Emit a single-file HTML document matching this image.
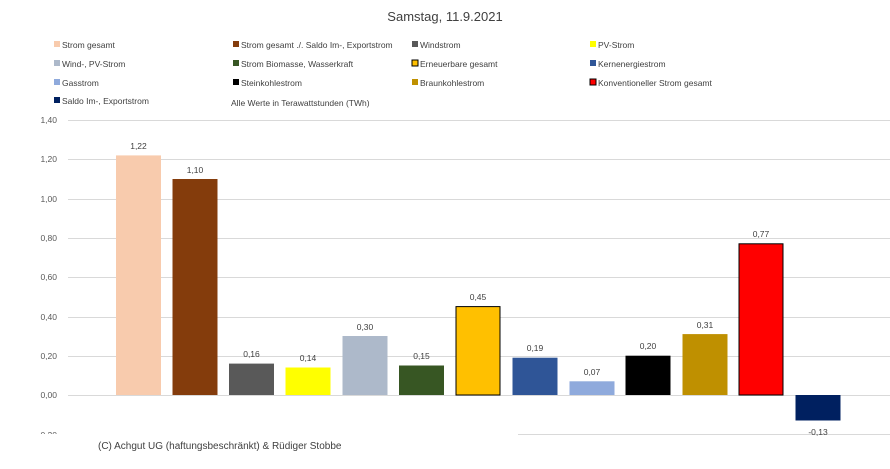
<!DOCTYPE html>
<html><head><meta charset="utf-8"><style>
body{margin:0;background:#fff}
text{font-family:"Liberation Sans",sans-serif}
</style></head><body>
<svg width="890" height="464" xmlns="http://www.w3.org/2000/svg">
<rect width="890" height="464" fill="#fff"/>
<text x="445" y="21" font-size="13" text-anchor="middle" fill="#404040">Samstag, 11.9.2021</text>
<g font-size="8.5" fill="#404040">
<rect x="54" y="41" width="6" height="6" fill="#f8cbad"/><text x="62" y="48">Strom gesamt</text>
<rect x="233" y="41" width="6" height="6" fill="#843c0c"/><text x="241" y="48">Strom gesamt ./. Saldo Im-, Exportstrom</text>
<rect x="412" y="41" width="6" height="6" fill="#595959"/><text x="420" y="48">Windstrom</text>
<rect x="590" y="41" width="6" height="6" fill="#ffff00"/><text x="598" y="48">PV-Strom</text>
<rect x="54" y="60" width="6" height="6" fill="#adb9ca"/><text x="62" y="67">Wind-, PV-Strom</text>
<rect x="233" y="60" width="6" height="6" fill="#375623"/><text x="241" y="67">Strom Biomasse, Wasserkraft</text>
<rect x="412" y="60" width="6" height="6" fill="#ffc000" stroke="#000" stroke-width="1"/><text x="420" y="67">Erneuerbare gesamt</text>
<rect x="590" y="60" width="6" height="6" fill="#2f5597"/><text x="598" y="67">Kernenergiestrom</text>
<rect x="54" y="79" width="6" height="6" fill="#8faadc"/><text x="62" y="86">Gasstrom</text>
<rect x="233" y="79" width="6" height="6" fill="#000"/><text x="241" y="86">Steinkohlestrom</text>
<rect x="412" y="79" width="6" height="6" fill="#bf9000"/><text x="420" y="86">Braunkohlestrom</text>
<rect x="590" y="79" width="6" height="6" fill="#ff0000" stroke="#000" stroke-width="1"/><text x="598" y="86">Konventioneller Strom gesamt</text>
<rect x="54" y="97" width="6" height="6" fill="#002060"/><text x="62" y="104">Saldo Im-, Exportstrom</text>
<text x="231" y="106">Alle Werte in Terawattstunden (TWh)</text>
</g>
<g stroke="#d9d9d9" stroke-width="1">
<line x1="68" x2="890" y1="120.5" y2="120.5"/><line x1="68" x2="890" y1="159.5" y2="159.5"/>
<line x1="68" x2="890" y1="199.5" y2="199.5"/><line x1="68" x2="890" y1="238.5" y2="238.5"/>
<line x1="68" x2="890" y1="277.5" y2="277.5"/><line x1="68" x2="890" y1="317.5" y2="317.5"/>
<line x1="68" x2="890" y1="356.5" y2="356.5"/><line x1="68" x2="890" y1="395.5" y2="395.5"/>
<line x1="68" x2="890" y1="434.5" y2="434.5"/>
</g>
<g font-size="8.5" fill="#595959" text-anchor="end">
<text x="57" y="123">1,40</text><text x="57" y="162">1,20</text><text x="57" y="202">1,00</text>
<text x="57" y="241">0,80</text><text x="57" y="280">0,60</text><text x="57" y="320">0,40</text>
<text x="57" y="359">0,20</text><text x="57" y="398">0,00</text><text x="57" y="438">-0,20</text>
</g>
<g>
<rect x="116" y="155.4" width="45" height="239.6" fill="#f8cbad"/>
<rect x="172.5" y="179" width="45" height="216" fill="#843c0c"/>
<rect x="229" y="363.6" width="45" height="31.4" fill="#595959"/>
<rect x="285.5" y="367.5" width="45" height="27.5" fill="#ffff00"/>
<rect x="342.5" y="336" width="45" height="59" fill="#adb9ca"/>
<rect x="399" y="365.5" width="45" height="29.5" fill="#375623"/>
<rect x="456" y="306.6" width="44" height="88.4" fill="#ffc000" stroke="#000" stroke-width="1"/>
<rect x="512.5" y="357.7" width="45" height="37.3" fill="#2f5597"/>
<rect x="569.5" y="381.3" width="45" height="13.7" fill="#8faadc"/>
<rect x="625.5" y="355.7" width="45" height="39.3" fill="#000"/>
<rect x="682.5" y="334.1" width="45" height="60.9" fill="#bf9000"/>
<rect x="739" y="243.8" width="44" height="151.2" fill="#ff0000" stroke="#000" stroke-width="1"/>
<rect x="795.5" y="395" width="45" height="25.5" fill="#002060"/>
</g>
<g font-size="8.5" fill="#404040" text-anchor="middle">
<text x="138.5" y="149">1,22</text><text x="195" y="173">1,10</text><text x="251.5" y="357">0,16</text>
<text x="308" y="361">0,14</text><text x="365" y="330">0,30</text><text x="421.5" y="359">0,15</text>
<text x="478" y="300">0,45</text><text x="535" y="351">0,19</text><text x="592" y="375">0,07</text>
<text x="648" y="349">0,20</text><text x="705" y="328">0,31</text><text x="761" y="237">0,77</text>
<text x="818" y="435">-0,13</text>
</g>
<rect x="0" y="434" width="518" height="30" fill="#fff"/>
<text x="98" y="449" font-size="10" fill="#404040">(C) Achgut UG (haftungsbeschränkt) &amp; Rüdiger Stobbe</text>
</svg>
</body></html>
